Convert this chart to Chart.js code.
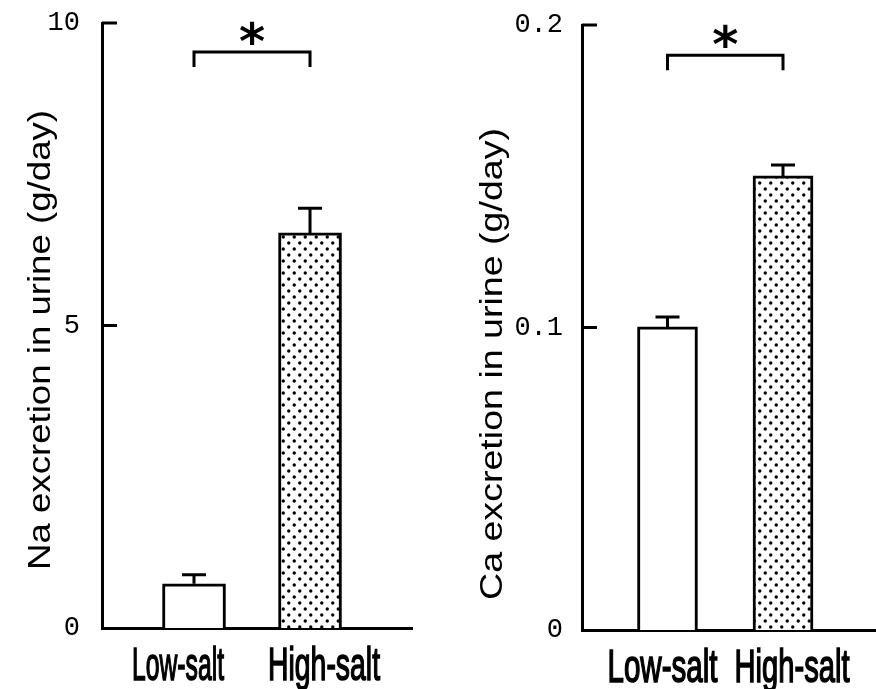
<!DOCTYPE html>
<html>
<head>
<meta charset="utf-8">
<script src="https://cdn.jsdelivr.net/npm/chart.js@4.4.1/dist/chart.umd.min.js"></script>
<style>
  html, body { margin: 0; padding: 0; background: #fff; }
  .box { position: absolute; top: 0; width: 438px; height: 689px; }
  #leftBox { left: 0; }
  #rightBox { left: 438px; }
</style>
</head>
<body>
<div class="box" id="leftBox"><canvas id="naChart"></canvas></div>
<div class="box" id="rightBox"><canvas id="caChart"></canvas></div>
<script>
// ── Data ──────────────────────────────────────────────────────────────────────
const CATEGORIES   = ['Low-salt', 'High-salt'];
const NA_VALUES    = [0.73, 6.53];
const NA_ERRORS    = [0.15, 0.41];
const CA_VALUES    = [0.1002, 0.1501];
const CA_ERRORS    = [0.0033, 0.0036];
const NA_TICKS     = [0, 5, 10];
const NA_TICK_TEXT = ['0', '5', '10'];
const CA_TICKS     = [0, 0.1, 0.2];
const CA_TICK_TEXT = ['0', '0.1', '0.2'];
const NA_TITLE     = 'Na excretion in urine (g/day)';
const CA_TITLE     = 'Ca excretion in urine (g/day)';
const SIG_MARK     = '*';

// dotted fill for the high-salt bars
function dotPattern(ctx) {
  const tile = document.createElement('canvas');
  tile.width = 11; tile.height = 12;
  const t = tile.getContext('2d');
  t.fillStyle = '#fff'; t.fillRect(0, 0, 11, 12);
  t.fillStyle = '#000';
  [[2.75, 3], [8.25, 9]].forEach(([px, py]) => {
    t.beginPath(); t.arc(px, py, 1.7, 0, Math.PI * 2); t.fill();
  });
  return ctx.createPattern(tile, 'repeat');
}

// ── error bars, inward ticks, bracket, labels ────────────────────────────────
const decor = {
  id: 'decor',
  afterDraw(chart, args, o) {
    const ctx = chart.ctx, xs = chart.scales.x, ys = chart.scales.y;
    const area = chart.chartArea;
    const bars = chart.getDatasetMeta(0).data;
    ctx.save();
    ctx.strokeStyle = '#000';
    ctx.fillStyle = '#000';
    ctx.lineWidth = 3;

    bars.forEach((bar, i) => {
      const top = ys.getPixelForValue(o.values[i] + o.errors[i]);
      ctx.beginPath();
      ctx.moveTo(bar.x, bar.y); ctx.lineTo(bar.x, top);
      ctx.moveTo(bar.x - 12, top); ctx.lineTo(bar.x + 12, top);
      ctx.stroke();
    });

    o.ticks.forEach(v => {
      if (v === 0) return;
      const py = ys.getPixelForValue(v);
      ctx.beginPath(); ctx.moveTo(area.left, py); ctx.lineTo(area.left + 15, py); ctx.stroke();
    });

    // significance bracket
    const by = ys.getPixelForValue(o.bracket);
    const x1 = bars[0].x, x2 = bars[1].x;
    ctx.beginPath();
    ctx.moveTo(x1, by + 15); ctx.lineTo(x1, by); ctx.lineTo(x2, by); ctx.lineTo(x2, by + 15);
    ctx.stroke();
    ctx.font = 'bold 50px "DejaVu Sans"';
    ctx.textAlign = 'center';
    ctx.textBaseline = 'alphabetic';
    const m = ctx.measureText(SIG_MARK);
    const cy = by - 19;
    ctx.fillText(SIG_MARK, (x1 + x2) / 2, cy + (m.actualBoundingBoxAscent - m.actualBoundingBoxDescent) / 2);

    // category labels (condensed face, slightly thickened)
    ctx.font = '47px "Liberation Sans"';
    ctx.lineWidth = 1.6;
    CATEGORIES.forEach((lab, i) => {
      const w = ctx.measureText(lab).width;
      ctx.save();
      ctx.translate(xs.getPixelForValue(i + 1) + o.labelShift[i], o.labelBase);
      ctx.scale(o.labelWidth[i] / w, 1);
      ctx.fillText(lab, 0, 0);
      ctx.strokeText(lab, 0, 0);
      ctx.restore();
    });

    // axis title
    ctx.font = '32px "Liberation Sans"';
    const tw = ctx.measureText(o.title).width;
    ctx.translate(o.titleX, o.titleMid);
    ctx.rotate(-Math.PI / 2);
    ctx.scale(o.titleLen / tw, 1);
    ctx.fillText(o.title, 0, 0);
    ctx.restore();
  }
};

function makeChart(id, cfg) {
  const ctx = document.getElementById(id).getContext('2d');
  return new Chart(ctx, {
    type: 'bar',
    data: {
      datasets: [{
        data: cfg.values.map((v, i) => ({ x: i + 1, y: v })),
        backgroundColor: ['#fff', dotPattern(ctx)],
        borderColor: '#000',
        borderWidth: 3,
        borderSkipped: 'bottom',
        barThickness: cfg.barWidth,
      }]
    },
    options: {
      responsive: true,
      maintainAspectRatio: false,
      animation: false,
      layout: { padding: cfg.padding },
      plugins: {
        legend: { display: false },
        tooltip: { enabled: false },
        decor: cfg.decor,
      },
      scales: {
        x: {
          type: 'linear',
          offset: false,
          min: cfg.xMin, max: cfg.xMax,
          grid: { display: false, drawTicks: false, offset: false },
          border: { display: true, color: '#000', width: 3 },
          ticks: { display: false },
          afterFit: s => { s.height = cfg.xHeight; s.paddingLeft = 0; s.paddingRight = 0; },
        },
        y: {
          min: 0, max: cfg.ticks[cfg.ticks.length - 1],
          grid: { display: false, drawTicks: false },
          border: { display: true, color: '#000', width: 3 },
          afterBuildTicks: s => { s.ticks = cfg.ticks.map(v => ({ value: v })); },
          ticks: {
            padding: cfg.tickPad,
            color: '#000',
            font: { family: '"Liberation Mono"', size: 27 },
            callback: (v, i) => cfg.tickText[i],
          },
          afterFit: s => { s.width = cfg.yWidth; s.paddingTop = 0; s.paddingBottom = 0; },
        }
      }
    },
    plugins: [decor]
  });
}

makeChart('naChart', {
  values: NA_VALUES, ticks: NA_TICKS, tickText: NA_TICK_TEXT,
  padding: { top: 23, right: 26, left: 0, bottom: 0 },
  xMin: 0.207, xMax: 2.879, xHeight: 61, yWidth: 102, tickPad: 22, barWidth: 63,
  decor: {
    values: NA_VALUES, errors: NA_ERRORS, ticks: NA_TICKS, bracket: 9.52,
    labelShift: [-16, 14], labelWidth: [92, 112], labelBase: 680,
    title: NA_TITLE, titleX: 50, titleMid: 340, titleLen: 460,
  }
});

makeChart('caChart', {
  values: CA_VALUES, ticks: CA_TICKS, tickText: CA_TICK_TEXT,
  padding: { top: 25, right: 0, left: 0, bottom: 0 },
  xMin: 0.26, xMax: 2.805, xHeight: 59, yWidth: 144, tickPad: 19, barWidth: 60,
  decor: {
    values: CA_VALUES, errors: CA_ERRORS, ticks: CA_TICKS, bracket: 0.19,
    labelShift: [-5, 9], labelWidth: [110, 115], labelBase: 682,
    title: CA_TITLE, titleX: 64, titleMid: 364, titleLen: 472,
  }
});
</script>
</body>
</html>
